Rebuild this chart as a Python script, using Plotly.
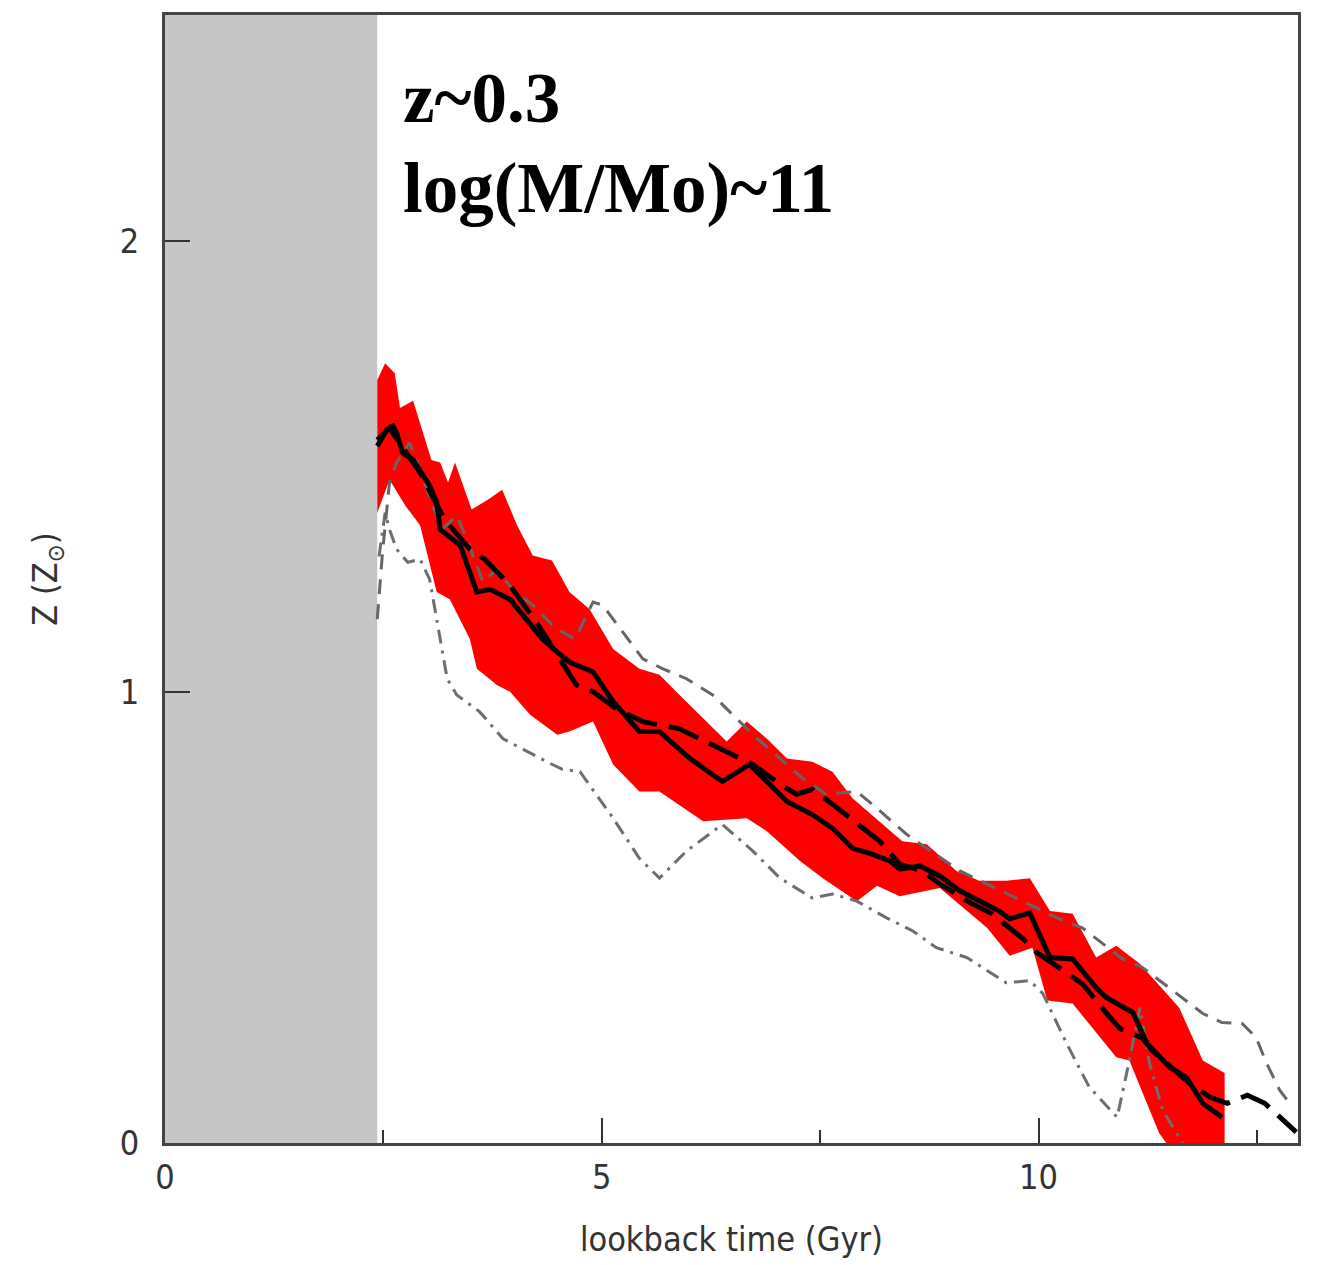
import plotly.graph_objects as go

# shaded (unobservable) region in lookback time
shade_x = [0.0, 2.43]

# red band (upper and lower envelopes)
band_up_x = [2.43, 2.52, 2.63, 2.69, 2.84, 3.05, 3.15, 3.24, 3.32, 3.51, 3.70, 3.86, 4.03, 4.21, 4.43, 4.63, 4.86,
             5.13, 5.43, 5.66, 5.89, 6.43, 6.66, 6.89, 7.12, 7.41, 7.64, 7.87, 8.44, 8.72, 8.90, 9.06, 9.32, 9.63,
             9.90, 10.13, 10.39, 10.66, 10.89, 11.16, 11.61, 11.88, 12.13, 12.13]
band_up_y = [1.691, 1.728, 1.706, 1.629, 1.645, 1.514, 1.508, 1.464, 1.508, 1.404, 1.426, 1.448, 1.369, 1.302, 1.291,
             1.221, 1.183, 1.095, 1.051, 1.038, 0.993, 0.890, 0.934, 0.896, 0.852, 0.845, 0.823, 0.764, 0.669, 0.662,
             0.631, 0.603, 0.581, 0.581, 0.587, 0.514, 0.508, 0.411, 0.437, 0.397, 0.300, 0.183, 0.155, -0.05]
band_lo_x = [2.43, 2.57, 2.75, 2.92, 3.11, 3.26, 3.49, 3.57, 3.80, 3.95, 4.18, 4.49, 4.63, 4.90, 5.13, 5.43, 5.66,
             6.16, 6.66, 6.89, 7.27, 7.53, 7.92, 8.15, 8.41, 8.87, 9.18, 9.41, 9.67, 9.93, 10.10, 10.39, 10.89,
             11.04, 11.38, 11.65]
band_lo_y = [1.397, 1.470, 1.413, 1.369, 1.221, 1.205, 1.117, 1.051, 1.015, 1.000, 0.949, 0.905, 0.912, 0.934,
             0.839, 0.779, 0.779, 0.713, 0.720, 0.691, 0.625, 0.587, 0.536, 0.570, 0.547, 0.565, 0.514, 0.477,
             0.415, 0.433, 0.316, 0.309, 0.190, 0.183, 0.022, -0.05]

# black solid line
solid_x = [2.43, 2.54, 2.61, 2.65, 2.72, 2.84, 3.03, 3.11, 3.15, 3.26, 3.38, 3.57, 3.72, 3.95, 4.14, 4.32, 4.49,
           4.63, 4.90, 5.13, 5.43, 5.66, 6.01, 6.38, 6.69, 6.89, 7.12, 7.41, 7.64, 7.87, 8.07, 8.30, 8.41, 8.64,
           8.87, 9.10, 9.32, 9.55, 9.67, 9.90, 10.13, 10.39, 10.66, 10.78, 11.08, 11.24, 11.50, 11.69, 11.88, 12.10]
solid_y = [1.545, 1.581, 1.589, 1.574, 1.530, 1.514, 1.457, 1.419, 1.360, 1.342, 1.325, 1.221, 1.227, 1.205, 1.161,
           1.117, 1.088, 1.066, 1.044, 0.978, 0.912, 0.912, 0.852, 0.801, 0.839, 0.801, 0.757, 0.728, 0.698, 0.653,
           0.642, 0.625, 0.607, 0.614, 0.592, 0.559, 0.536, 0.514, 0.497, 0.510, 0.411, 0.408, 0.344, 0.322, 0.289,
           0.221, 0.168, 0.146, 0.088, 0.057]

# black long-dashed line
bdash_x = [2.43, 2.57, 2.72, 2.92, 3.20, 3.49, 3.66, 3.95, 4.29, 4.71, 4.90, 5.17, 5.47, 5.89, 6.12, 6.50, 6.73,
           7.04, 7.23, 7.41, 7.64, 8.18, 8.41, 8.67, 8.87, 9.24, 9.47, 9.82, 9.98, 10.32, 10.50, 10.78, 10.93,
           11.19, 11.30, 11.73, 11.96, 12.16, 12.39, 12.59, 12.95]
bdash_y = [1.558, 1.585, 1.541, 1.486, 1.382, 1.316, 1.294, 1.236, 1.143, 1.015, 1.000, 0.962, 0.934, 0.918, 0.896,
           0.861, 0.839, 0.795, 0.773, 0.784, 0.751, 0.669, 0.618, 0.603, 0.574, 0.530, 0.508, 0.453, 0.422, 0.377,
           0.353, 0.287, 0.254, 0.232, 0.205, 0.132, 0.102, 0.088, 0.106, 0.088, 0.024]

# grey short-dashed line
gdash_x = [2.43, 2.49, 2.57, 2.65, 2.80, 2.92, 3.05, 3.17, 3.34, 3.47, 3.64, 3.80, 3.98, 4.21, 4.46, 4.69, 4.75,
           4.90, 5.01, 5.24, 5.47, 5.70, 5.97, 6.27, 6.54, 6.73, 7.04, 7.30, 7.57, 7.92, 8.15, 8.49, 8.72, 9.10,
           9.41, 9.86, 10.21, 10.50, 10.73, 10.96, 11.19, 11.58, 11.88, 12.10, 12.33, 12.49, 12.61, 12.76, 12.91]
gdash_y = [1.161, 1.309, 1.464, 1.508, 1.552, 1.492, 1.419, 1.360, 1.391, 1.331, 1.243, 1.272, 1.227, 1.192, 1.143,
           1.117, 1.139, 1.199, 1.192, 1.132, 1.073, 1.051, 1.029, 0.993, 0.940, 0.905, 0.852, 0.808, 0.773, 0.779,
           0.742, 0.684, 0.653, 0.603, 0.574, 0.532, 0.499, 0.477, 0.442, 0.408, 0.389, 0.331, 0.287, 0.267, 0.265,
           0.234, 0.177, 0.117, 0.079]

# grey dash-dot line
gdot_x = [2.45, 2.52, 2.57, 2.65, 2.78, 2.92, 3.03, 3.11, 3.23, 3.34, 3.60, 3.87, 4.14, 4.37, 4.55, 4.75, 5.13,
          5.43, 5.66, 5.97, 6.38, 6.73, 7.04, 7.41, 7.64, 7.92, 8.26, 8.56, 8.83, 9.18, 9.63, 9.90, 10.05, 10.32,
          10.58, 10.90, 11.04, 11.16, 11.27, 11.42, 11.65]
gdot_y = [1.30, 1.397, 1.360, 1.316, 1.287, 1.294, 1.249, 1.161, 1.029, 0.993, 0.956, 0.896, 0.868, 0.845, 0.828,
          0.823, 0.720, 0.631, 0.587, 0.647, 0.706, 0.647, 0.587, 0.543, 0.552, 0.536, 0.499, 0.470, 0.433, 0.411,
          0.355, 0.360, 0.331, 0.221, 0.124, 0.057, 0.183, 0.300, 0.177, 0.073, 0.0]

x_ticks = [0, 5, 10]
x_minor = [2.5, 7.5, 12.5]
y_ticks = [0, 1, 2]
label_line1 = "z~0.3"
label_line2 = "log(M/Mo)~11"

fig = go.Figure()

fig.add_shape(type="rect", xref="x", yref="y", x0=shade_x[0], x1=shade_x[1], y0=0, y1=2.5,
              fillcolor="#c6c6c6", line=dict(width=0), layer="below")

fig.add_trace(go.Scatter(x=band_up_x + band_lo_x[::-1], y=band_up_y + band_lo_y[::-1],
                         fill="toself", fillcolor="#ff0000", mode="lines", line=dict(width=0, color="#ff0000"),
                         hoverinfo="skip", showlegend=False))
fig.add_trace(go.Scatter(x=gdot_x, y=gdot_y, mode="lines",
                         line=dict(color="#6e6e6e", width=3, dash="14px,7px,3px,7px"), showlegend=False))
fig.add_trace(go.Scatter(x=gdash_x, y=gdash_y, mode="lines",
                         line=dict(color="#666666", width=3, dash="15px,10px"), showlegend=False))
fig.add_trace(go.Scatter(x=bdash_x, y=bdash_y, mode="lines",
                         line=dict(color="#000000", width=5, dash="32px,12px"), showlegend=False))
fig.add_trace(go.Scatter(x=solid_x, y=solid_y, mode="lines",
                         line=dict(color="#000000", width=5), showlegend=False))

label_font = dict(family="Liberation Serif, Times New Roman, serif", size=71, color="#000000", weight="bold")
fig.add_annotation(x=2.70, y=2.315, xref="x", yref="y", text=label_line1, showarrow=False,
                   xanchor="left", yanchor="middle", font=label_font)
fig.add_annotation(x=2.70, y=2.115, xref="x", yref="y", text=label_line2, showarrow=False,
                   xanchor="left", yanchor="middle", font=label_font)

axis_font = dict(family="DejaVu Sans Condensed, Liberation Sans Narrow, DejaVu Sans, sans-serif", size=34, color="#333333")

fig.update_xaxes(range=[0, 12.97], tickvals=x_ticks, ticktext=[str(v) for v in x_ticks],
                 ticks="inside", ticklen=25, tickwidth=2, tickcolor="#333333",
                 minor=dict(tickvals=x_minor, ticks="inside", ticklen=13, tickwidth=2, tickcolor="#333333"),
                 showline=True, linecolor="#444444", linewidth=3, mirror=True, showgrid=False, zeroline=False,
                 tickfont=axis_font, ticklabelstandoff=2,
                 title=dict(text="lookback time (Gyr)", font=axis_font, standoff=32))
fig.update_yaxes(range=[0, 2.5], tickvals=y_ticks, ticktext=[str(v) for v in y_ticks],
                 ticks="inside", ticklen=25, tickwidth=2, tickcolor="#333333",
                 showline=True, linecolor="#444444", linewidth=3, mirror=True, showgrid=False, zeroline=False,
                 tickfont=axis_font, ticklabelstandoff=16,
                 title=dict(text="Z (Z<sub>⊙</sub>)", font=axis_font, standoff=52))

fig.update_layout(width=1317, height=1265, margin=dict(l=165, r=19, t=12, b=122),
                  plot_bgcolor="#ffffff", paper_bgcolor="#ffffff")

fig.write_html("out.html")
